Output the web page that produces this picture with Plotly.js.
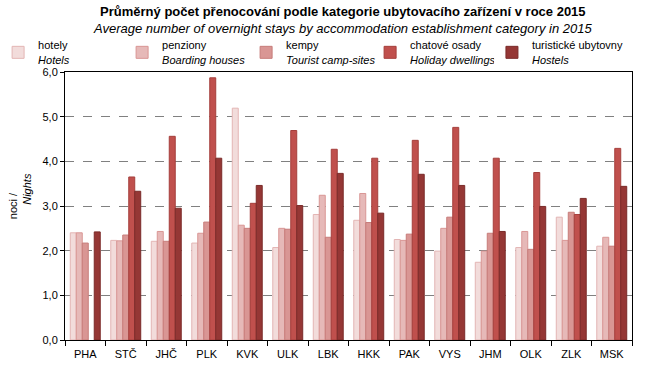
<!DOCTYPE html>
<html>
<head>
<meta charset="utf-8">
<script src="https://cdn.plot.ly/plotly-3.0.1.min.js"></script>
<style>html,body{margin:0;padding:0;background:#fff;}#chart{width:652px;height:374px;}</style>
</head>
<body>
<div id="chart"></div>
<script>
const regions = ["PHA","STČ","JHČ","PLK","KVK","ULK","LBK","HKK","PAK","VYS","JHM","OLK","ZLK","MSK"];
const seriesNames = [
  "hotely<br><i>Hotels</i>",
  "penziony<br><i>Boarding houses</i>",
  "kempy<br><i>Tourist camp-sites</i>",
  "chatové osady<br><i>Holiday dwellings</i>",
  "turistické ubytovny<br><i>Hostels</i>"
];
const hotels   = [2.40, 2.23, 2.21, 2.17, 5.19, 2.07, 2.81, 2.68, 2.25, 1.99, 1.74, 2.07, 2.75, 2.10];
const pensions = [2.40, 2.22, 2.43, 2.39, 2.57, 2.50, 3.24, 3.28, 2.23, 2.50, 1.99, 2.43, 2.23, 2.30];
const camps    = [2.17, 2.35, 2.21, 2.64, 2.50, 2.48, 2.30, 2.63, 2.37, 2.75, 2.39, 2.03, 2.86, 2.10];
const dwellings= [null, 3.65, 4.56, 5.87, 3.06, 4.69, 4.27, 4.07, 4.47, 4.76, 4.07, 3.75, 2.81, 4.29];
const hostels  = [2.42, 3.33, 2.95, 4.07, 3.46, 3.01, 3.73, 2.84, 3.71, 3.46, 2.43, 2.99, 3.17, 3.44];

const fills = ["#f2dcdb", "#e6b9b8", "#d99694", "#c0504d", "#953735"];
const borders = ["#e3b5b4", "#d99694", "#c77c7a", "#a53f3c", "#7a2b29"];
const values = [hotels, pensions, camps, dwellings, hostels];

const data = values.map((v, i) => ({
  type: "bar",
  name: seriesNames[i],
  x: regions,
  y: v,
  legend: i < 4 ? "legend" : "legend2",
  marker: {color: fills[i], line: {color: borders[i], width: 1}},
  hoverinfo: "x+y"
}));

const font = "Liberation Sans, Arial, sans-serif";
const legendFont = {family: font, size: 11, color: "#000"};
const pad = "\u00a0".repeat(11);
const layout = {
  width: 652, height: 374,
  margin: {l: 65, r: 20, t: 72, b: 34, autoexpand: false},
  paper_bgcolor: "#fff", plot_bgcolor: "#fff",
  separators: ", ",
  font: {family: font, size: 11, color: "#000"},
  barmode: "group",
  bargap: 0.26,
  bargroupgap: 0,
  title: {
    text: "<b>Průměrný počet přenocování podle kategorie ubytovacího zařízení v roce 2015</b><br><i>Average number of overnight stays by accommodation establishment category in 2015</i>",
    font: {family: font, size: 13, color: "#000"},
    x: 0.49, xanchor: "center", xref: "paper",
    y: 0.958, yanchor: "top"
  },
  showlegend: true,
  legend: {
    orientation: "h",
    x: -0.118, xanchor: "left",
    y: 1.151, yanchor: "top",
    entrywidth: 79, entrywidthmode: "pixels",
    font: legendFont,
    bgcolor: "rgba(0,0,0,0)",
    traceorder: "normal"
  },
  legend2: {
    orientation: "h",
    x: 0.753, xanchor: "left",
    y: 1.151, yanchor: "top",
    font: legendFont,
    bgcolor: "rgba(0,0,0,0)"
  },
  xaxis: {
    type: "category",
    showline: true, linecolor: "#000", linewidth: 1, mirror: true,
    ticks: "outside", tickson: "boundaries", ticklen: 5, tickcolor: "#000",
    ticklabelstandoff: 4,
    showgrid: false,
    tickfont: {family: font, size: 11, color: "#000"}
  },
  yaxis: {
    range: [0, 6], dtick: 1, tickformat: ".1f",
    showline: true, linecolor: "#000", linewidth: 1, mirror: true,
    ticks: "outside", ticklen: 4, tickcolor: "#000",
    showgrid: true, gridcolor: "#808080", griddash: "dash", gridwidth: 1,
    zeroline: false,
    tickfont: {family: font, size: 11, color: "#000"},
    title: {text: pad + "noci /<br>" + pad + "<i>Nights</i>", font: {family: font, size: 11, color: "#000"}, standoff: 8}
  }
};

Plotly.newPlot("chart", data, layout, {displayModeBar: false, staticPlot: true});
</script>
</body>
</html>
